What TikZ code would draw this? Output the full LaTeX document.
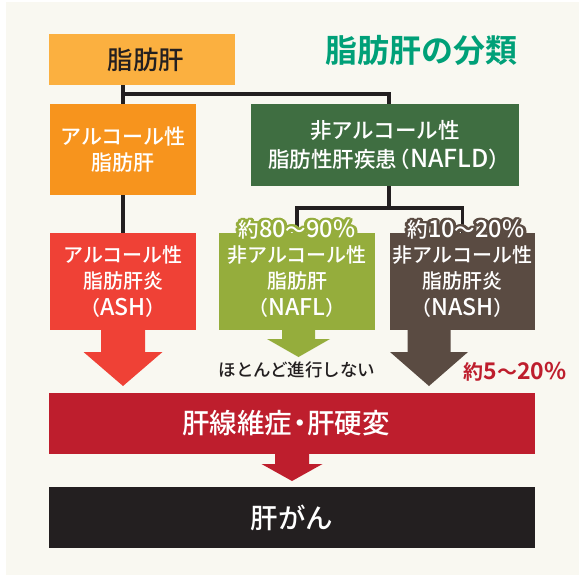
\documentclass[tikz,border=0pt]{standalone}
\usepackage{fontspec}
\setmainfont{Noto Sans CJK JP}[UprightFont={* Medium}, BoldFont={* Bold}]
\newfontfamily\latinf{Noto Sans CJK JP}[UprightFont={* Medium}, BoldFont={* Bold}, Scale=1.15]
\newcommand\lat[1]{{\latinf #1}}
\usetikzlibrary{calc}
\definecolor{bgc}{HTML}{F9F8F1}
\definecolor{darkc}{HTML}{231F20}
\definecolor{topc}{HTML}{FBB040}
\definecolor{alcc}{HTML}{F7941D}
\definecolor{nafldc}{HTML}{3F6E41}
\definecolor{ashc}{HTML}{EF4136}
\definecolor{naflc}{HTML}{95AD3C}
\definecolor{nashc}{HTML}{5A4B42}
\definecolor{fibc}{HTML}{BE1E2D}
\definecolor{titlec}{HTML}{00A078}
\newcommand\blockarr[6]{%
  \fill[#6] ($(#1)+(-#2,-1)$) -- ($(#1)+(-#2,#3)$) -- ($(#1)+(-#4,#3)$) -- ($(#1)+(0,#3+#5)$)
    -- ($(#1)+(#4,#3)$) -- ($(#1)+(#2,#3)$) -- ($(#1)+(#2,-1)$) -- cycle;}
\newcommand\halolabel[4]{%
  \foreach \a in {0,20,...,340}{\node[lbl, text=#3] at ($(#2)+(\a:3)$) {#4};}
  \node[lbl, text=white] (#1) at (#2) {#4};}
\newcommand\nakaguro{\kern-0.22em・\kern-0.22em}
\begin{document}
\begin{tikzpicture}[x=1pt,y=-1pt,
  box/.style={inner sep=0pt, outer sep=0pt, align=center, text=white},
  conn/.style={line width=3.3pt, draw=darkc, line join=miter},
  lbl/.style={inner sep=0pt, font=\fontsize{20.5}{24}\selectfont}]
\useasboundingbox (0,0) rectangle (586,581);
\fill[white] (0,0) rectangle (586,581);
\fill[bgc] (6,2) rectangle (579,575);
% title
\node[font=\bfseries\fontsize{32}{36}\selectfont, text=titlec] (title) at (421.5,50) {脂肪肝の分類};
% boxes
\node[box, fill=topc, minimum width=186pt, minimum height=51pt] (top) at (142,59.5) {};
\node[font=\fontsize{25.5}{30}\selectfont, text=darkc, inner sep=0pt] (toptxt) at ($(top.center)+(4,0)$) {脂肪肝};
\node[box, fill=alcc, minimum width=146pt, minimum height=91pt, font=\fontsize{21}{26}\selectfont] (alc) at (123,149.5) {アルコール性\\脂肪肝};
\node[box, fill=nafldc, minimum width=268pt, minimum height=82pt, font=\fontsize{21.5}{29}\selectfont] (nafld) at (385,145) {非アルコール性\\脂肪性肝疾患\kern-0.4em（\lat{NAFLD}）\kern-0.4em};
\node[box, fill=ashc, minimum width=146pt, minimum height=97pt, font=\fontsize{20}{26.5}\selectfont] (ash) at (123,281.5) {アルコール性\\脂肪肝炎\\（\lat{ASH}）};
\node[box, fill=naflc, minimum width=156pt, minimum height=97pt, font=\fontsize{20}{26.5}\selectfont] (nafl) at (297,281.5) {非アルコール性\\脂肪肝\\（\lat{NAFL}）};
\node[box, fill=nashc, minimum width=145pt, minimum height=97pt, font=\fontsize{20}{26.5}\selectfont] (nash) at (462.5,281.5) {非アルコール性\\脂肪肝炎\\（\lat{NASH}）};
\node[box, fill=fibc, minimum width=486pt, minimum height=61pt] (fib) at (292,423.5) {};
\node[font=\fontsize{27.5}{32}\selectfont, text=white, inner sep=0pt] (fibtxt) at ($(fib.center)+(-6,0)$) {肝線維症\nakaguro 肝硬変};
\node[box, fill=darkc, minimum width=486pt, minimum height=61pt, font=\fontsize{27.5}{32}\selectfont] (can) at (292,517.5) {肝がん};
% connectors
\coordinate (j1) at (top.south -| alc.north);
\draw[conn] (j1) -- (alc.north);
\coordinate (j2) at ($(j1)+(0,9)$);
\coordinate (nt) at ($(nafld.north)+(4,0)$);
\draw[conn] (j2) -| (nt);
\draw[conn] (alc.south) -- (ash.north);
\coordinate (nb) at ($(nafld.south)+(4,0)$);
\draw[conn] (nb) -- ++(0,22) coordinate (j3);
\draw[conn] (nafl.north) |- (j3) -| (nash.north);
% labels with halo
\halolabel{l1}{297,230}{naflc}{約\lat{80}〜\lat{90\%}}
\halolabel{l2}{466,230}{nashc}{約\lat{10}〜\lat{20\%}}
% block arrows
\coordinate (a1) at (ash.south);
\blockarr{a1}{22}{22}{39.5}{34}{ashc}
\coordinate (a2) at ($(nafl.south)+(1.5,0)$);
\blockarr{a2}{16.5}{9}{31.5}{18}{naflc}
\coordinate (a3) at ($(nash.south)+(-33.5,0)$);
\blockarr{a3}{21.5}{22}{39}{34}{nashc}
\coordinate (a4) at (fib.south);
\blockarr{a4}{17}{10}{30.5}{17}{fibc}
% notes
\node[font=\fontsize{17.5}{20}\selectfont, text=darkc] (note) at (297,370) {ほとんど進行しない};
\node[font=\bfseries\fontsize{20}{24}\selectfont, text=fibc] (pct) at (515,372) {約\lat{5}〜\lat{20\%}};
\end{tikzpicture}
\end{document}
